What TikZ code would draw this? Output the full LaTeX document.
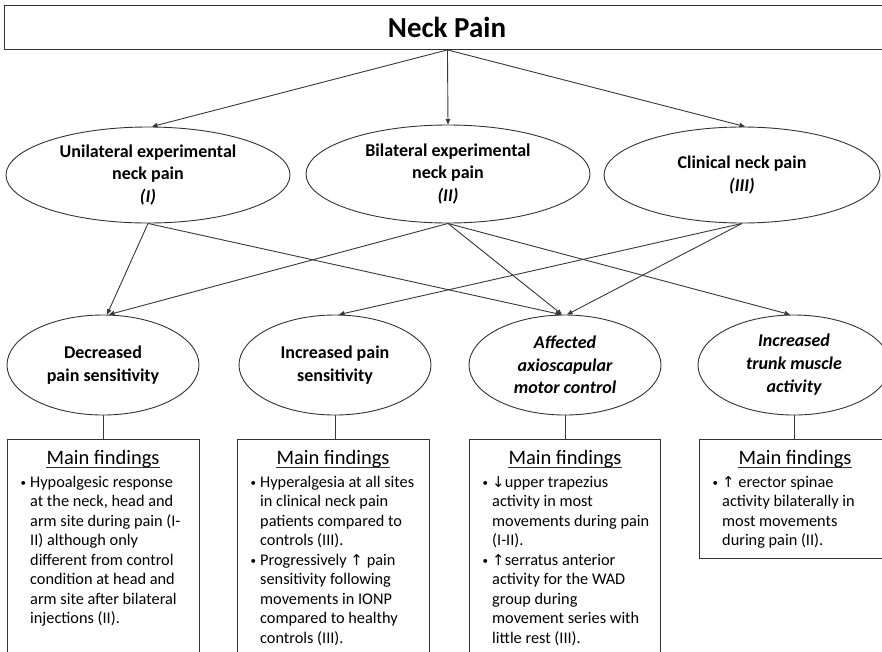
\documentclass[tikz,border=0pt]{standalone}
\usepackage{fontspec}
\setmainfont{Carlito}
\newfontfamily\arrowfont{DejaVu Sans}
\usetikzlibrary{shapes.geometric,arrows.meta}
\begin{document}
\begin{tikzpicture}[x=1pt,y=-1pt,
  line/.style={draw=black!78,line width=0.9pt},
  arr/.style={line,-{Triangle[length=5.5pt,width=4.5pt]}},
  oval/.style={ellipse,draw=black!80,line width=0.9pt,inner sep=0pt,align=center,
    font=\fontsize{18}{22.5}\selectfont\bfseries},
  findbox/.style={draw=black!80,line width=0.9pt,anchor=north west,inner sep=0pt,minimum width=192pt},
  head/.style={font=\fontsize{20.5}{24}\selectfont,inner sep=0pt},
  body/.style={font=\fontsize{16.3}{19.5}\selectfont,align=left,anchor=north west,inner sep=0pt},
]
\newcommand{\bul}{\llap{\raisebox{1pt}{\fontsize{11}{11}\selectfont\textbullet}\hspace{4pt}}}
\newcommand{\up}{{\arrowfont\fontsize{15}{19.5}\selectfont ↑}}
\newcommand{\down}{{\arrowfont\fontsize{15}{19.5}\selectfont ↓}}
\useasboundingbox (0,0) rectangle (882,651);
\fill[white] (0,0) rectangle (882,651);

% title box
\node[draw=black!80,line width=0.9pt,minimum width=886pt,minimum height=44pt,inner sep=0pt,anchor=north west] (top) at (4,5) {};
\node[font=\fontsize{29}{32}\selectfont\bfseries] (title) at (447,27) {Neck Pain};

% first row
\node[oval,minimum width=284pt,minimum height=96pt] (uni) at (148,175) {Unilateral experimental\\neck pain\\\textit{(I)}};
\node[oval,minimum width=284pt,minimum height=98pt] (bi) at (448,174) {Bilateral experimental\\neck pain\\\textit{(II)}};
\node[oval,minimum width=276pt,minimum height=96pt] (cli) at (742,175) {Clinical neck pain\\\textit{(III)}};

% second row
\node[oval,minimum width=192pt,minimum height=100pt] (dec) at (103,365) {Decreased\\pain sensitivity};
\node[oval,minimum width=192pt,minimum height=100pt] (inc) at (335,365) {Increased pain\\sensitivity};
\node[oval,minimum width=192pt,minimum height=100pt,font=\fontsize{18}{22.5}\selectfont\bfseries\itshape] (aff) at (565,365) {Affected\\axioscapular\\motor control};
\node[oval,minimum width=192pt,minimum height=100pt,font=\fontsize{18}{23}\selectfont\bfseries\itshape] (trk) at (794,365) {Increased\\trunk muscle\\activity};

% arrows from title
\draw[arr] (top.south) -- ([xshift=4pt]uni.north);
\draw[arr] (top.south) -- (bi.north);
\draw[arr] (top.south) -- ([xshift=3pt]cli.north);

% crossing arrows
\draw[arr] (uni.south) -- ([xshift=4pt]dec.north);
\draw[arr] (uni.south) -- ([xshift=-4pt]aff.north);
\draw[arr] (bi.south) -- ([xshift=6pt]dec.north);
\draw[arr] (bi.south) -- ([xshift=-3pt]aff.north);
\draw[arr] (bi.south) -- ([xshift=-4pt]trk.north);
\draw[arr] (cli.south) -- ([xshift=4pt]inc.north);
\draw[arr] (cli.south) -- ([xshift=2pt]aff.north);

% finding boxes
\node[findbox,minimum height=240pt] (b1) at (7,439) {};
\node[findbox,minimum height=240pt] (b2) at (237,439) {};
\node[findbox,minimum height=240pt,minimum width=191pt] (b3) at (469,439) {};
\node[findbox,minimum height=119pt] (b4) at (699,439) {};

\draw[line] (dec.south) -- (dec.south |- b1.north);
\draw[line] (inc.south) -- (inc.south |- b2.north);
\draw[line] (aff.south) -- (aff.south |- b3.north);
\draw[line] (trk.south) -- (trk.south |- b4.north);

% headings
\node[head] (h1) at (103,459) {Main findings};
\node[head] (h2) at (333,459) {Main findings};
\node[head] (h3) at (565,459) {Main findings};
\node[head] (h4) at (795,459) {Main findings};
\foreach \h in {h1,h2,h3,h4}{
  \draw[black!80,line width=0.8pt] ([yshift=-3.5pt]\h.base west) -- ([yshift=-3.5pt]\h.base east);
}

% texts
\node[body] (t1) at (30,473.3) {\bul\strut Hypoalgesic response\\
at the neck, head and\\
arm site during pain (I-\\
II) although only\\
different from control\\
condition at head and\\
arm site after bilateral\\
injections (II).};

\node[body] (t2) at (260,473.3) {\bul\strut Hyperalgesia at all sites\\
in clinical neck pain\\
patients compared to\\
controls (III).\\
\bul Progressively \up{} pain\\
sensitivity following\\
movements in IONP\\
compared to healthy\\
controls (III).};

\node[body] (t3) at (492,473.3) {\bul\strut \down upper trapezius\\
activity in most\\
movements during pain\\
(I-II).\\
\bul\up serratus anterior\\
activity for the WAD\\
group during\\
movement series with\\
little rest (III).};

\node[body] (t4) at (722,473.3) {\bul\strut \up{} erector spinae\\
activity bilaterally in\\
most movements\\
during pain (II).};
\end{tikzpicture}
\end{document}
